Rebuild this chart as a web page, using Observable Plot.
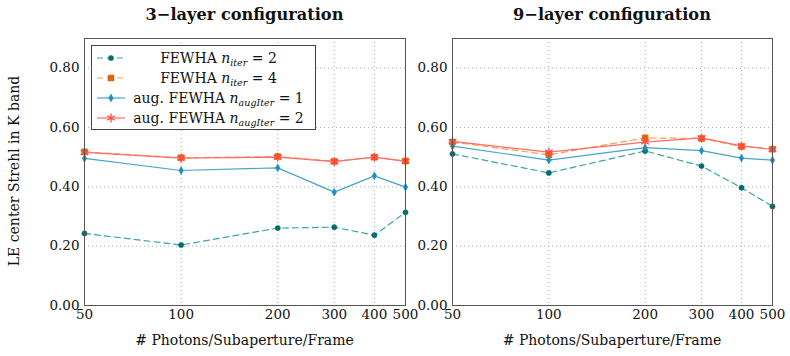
<!DOCTYPE html>
<html><head><meta charset="utf-8">
<script src="https://cdn.jsdelivr.net/npm/d3@7"></script>
<script src="https://cdn.jsdelivr.net/npm/@observablehq/plot@0.6"></script>
<style>
body{margin:0;background:#fff;font-family:'DejaVu Serif',serif;}
#wrap{position:relative;width:790px;height:356px;overflow:hidden;font-family:'DejaVu Serif',serif;}
.title{position:absolute;top:5px;font-weight:bold;font-size:16.2px;text-align:center;color:#111;}
.xlab{position:absolute;top:332px;font-size:14px;text-align:center;color:#111;}
#ylab{position:absolute;left:14px;top:171px;transform:translate(-50%,-50%) rotate(-90deg);white-space:nowrap;font-size:14px;color:#111;}
.panel{position:absolute;top:0;}
#legend{position:absolute;left:91px;top:45px;width:223px;height:83px;border:1px solid #444;background:#fff;font-size:14px;color:#111;}
.row{position:absolute;left:0;height:20px;width:223px;}
.row svg{position:absolute;left:4px;top:3px;}
.row span{position:absolute;left:34px;right:4px;text-align:center;top:0;line-height:20px;white-space:nowrap;}
sub{font-size:9.5px;vertical-align:-3px;}
</style></head>
<body><div id="wrap">
<div id="p1" class="panel" style="left:0"></div>
<div id="p2" class="panel" style="left:410px"></div>
<div class="title" style="left:84px;width:321px;">3−layer configuration</div>
<div class="title" style="left:452px;width:320px;">9−layer configuration</div>
<div class="xlab" style="left:84px;width:321px;"># Photons/Subaperture/Frame</div>
<div class="xlab" style="left:452px;width:320px;"># Photons/Subaperture/Frame</div>
<div id="ylab">LE center Strehl in K band</div>
<div id="legend"></div>
</div>
<script>
const photons = [50, 100, 200, 300, 400, 500];
const xTicks = [50, 100, 200, 300, 400, 500];
const yTicks = [0, 0.2, 0.4, 0.6, 0.8];
const seriesNames = ["FEWHA n_iter=2", "FEWHA n_iter=4", "aug. FEWHA n_augIter=1", "aug. FEWHA n_augIter=2"];

// 3-layer configuration
const l3_fewha2 = [0.243, 0.204, 0.261, 0.264, 0.237, 0.314];
const l3_fewha4 = [0.518, 0.498, 0.502, 0.486, 0.500, 0.487];
const l3_aug1   = [0.496, 0.455, 0.464, 0.382, 0.437, 0.399];
const l3_aug2   = [0.516, 0.497, 0.500, 0.485, 0.500, 0.486];

// 9-layer configuration
const l9_fewha2 = [0.511, 0.447, 0.521, 0.470, 0.397, 0.334];
const l9_fewha4 = [0.551, 0.508, 0.565, 0.563, 0.536, 0.527];
const l9_aug1   = [0.537, 0.490, 0.532, 0.522, 0.497, 0.490];
const l9_aug2   = [0.553, 0.517, 0.551, 0.565, 0.538, 0.526];

const styles = [
  {line:"#3aa6a6", mark:"#006e6e", dash:"6,4", symbol:"circle", r:2.6, fill:true},
  {line:"#f7a24a", mark:"#e2650e", dash:"6,4", symbol:"square", r:3.4, fill:true},
  {line:"#4aa3c9", mark:"#1f8fc0", dash:null, symbol:"diamond", r:2.4, fill:true},
  {line:"#ff6b6b", mark:"#ff4a3a", dash:null, symbol:"asterisk", r:4.2, fill:false}
];
const FONT = "'DejaVu Serif', serif";

function rows(arrs){
  const out = [];
  arrs.forEach((a, s) => a.forEach((v, i) => out.push({x: photons[i], y: v, s})));
  return out;
}

function panel(arrs, opts){
  const data = rows(arrs);
  const marks = [
    Plot.gridX(xTicks, {stroke:"#999", strokeOpacity:0.8, strokeDasharray:"1,3"}),
    Plot.gridY(yTicks, {stroke:"#999", strokeOpacity:0.8, strokeDasharray:"1,3"}),
    Plot.axisX({ticks:xTicks, tickFormat:d=>String(d), tickSize:0, tickPadding:4, fontSize:13.5, fontFamily:FONT, fill:"#111", label:null}),
    Plot.axisY({ticks:yTicks, tickFormat:d=>d.toFixed(2), tickSize:0, tickPadding:5, fontSize:13.5, fontFamily:FONT, fill:"#111", label:null})
  ];
  styles.forEach((st, s) => {
    const d = data.filter(r => r.s === s);
    marks.push(Plot.line(d, {x:"x", y:"y", stroke:st.line, strokeWidth:1.2, strokeDasharray:st.dash}));
    marks.push(Plot.dot(d, {x:"x", y:"y", symbol:()=>st.symbol, r:st.r,
      fill: st.fill ? st.mark : "none", stroke: st.mark, strokeWidth: st.fill ? 0.5 : 1.3}));
  });
  marks.push(Plot.frame({stroke:"#555", strokeWidth:1}));
  return Plot.plot({
    width: opts.width, height: 356,
    marginLeft: opts.ml, marginRight: opts.mr, marginTop: 38, marginBottom: 51,
    style:{background:"transparent", overflow:"visible", fontFamily:FONT, fontSize:"13.5px", color:"#111"},
    x:{type:"log", domain:[50,500]},
    y:{domain:[0,0.9]},
    marks
  });
}

document.getElementById("p1").appendChild(panel([l3_fewha2,l3_fewha4,l3_aug1,l3_aug2], {width:420, ml:84, mr:15}));
document.getElementById("p2").appendChild(panel([l9_fewha2,l9_fewha4,l9_aug1,l9_aug2], {width:380, ml:42, mr:18}));

// legend
const labelsHTML = [
  'FEWHA <i>n</i><sub><i>iter</i></sub> = 2',
  'FEWHA <i>n</i><sub><i>iter</i></sub> = 4',
  'aug. FEWHA <i>n</i><sub><i>augIter</i></sub> = 1',
  'aug. FEWHA <i>n</i><sub><i>augIter</i></sub> = 2'
];
const leg = document.getElementById("legend");
styles.forEach((st, i) => {
  const row = document.createElement("div");
  row.className = "row";
  row.style.top = (2 + i*20) + "px";
  const ns = "http://www.w3.org/2000/svg";
  const sv = document.createElementNS(ns, "svg");
  sv.setAttribute("width", 30); sv.setAttribute("height", 14);
  const ln = document.createElementNS(ns, "line");
  ln.setAttribute("x1", 1); ln.setAttribute("x2", 29); ln.setAttribute("y1", 7); ln.setAttribute("y2", 7);
  ln.setAttribute("stroke", st.line); ln.setAttribute("stroke-width", 1.2);
  if (st.dash) ln.setAttribute("stroke-dasharray", st.dash);
  sv.appendChild(ln);
  const p = document.createElementNS(ns, "path");
  const sym = {circle:d3.symbolCircle, square:d3.symbolSquare, diamond:d3.symbolDiamond, asterisk:d3.symbolAsterisk}[st.symbol];
  p.setAttribute("d", d3.symbol(sym, Math.PI*st.r*st.r)());
  p.setAttribute("transform", "translate(15,7)");
  p.setAttribute("fill", st.fill ? st.mark : "none");
  p.setAttribute("stroke", st.mark);
  p.setAttribute("stroke-width", st.fill ? 0.5 : 1.3);
  sv.appendChild(p);
  row.appendChild(sv);
  const sp = document.createElement("span");
  sp.innerHTML = labelsHTML[i];
  row.appendChild(sp);
  leg.appendChild(row);
});
</script>
</body></html>
